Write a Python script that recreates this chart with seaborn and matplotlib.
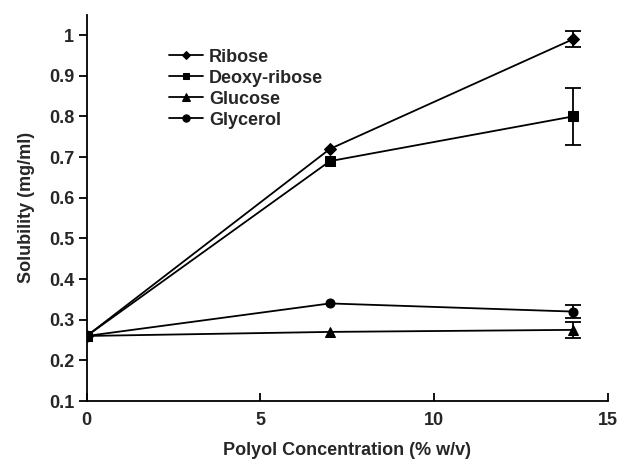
import numpy as np
import pandas as pd
import matplotlib
matplotlib.use("Agg")
import matplotlib.pyplot as plt
import seaborn as sns

# Polyol concentration (% w/v)
concentration = [0, 7, 14]

# Solubility (mg/ml) and standard deviation for each polyol
ribose = [0.26, 0.72, 0.99]
ribose_err = [0.0, 0.0, 0.02]
deoxyribose = [0.26, 0.69, 0.80]
deoxyribose_err = [0.0, 0.0, 0.07]
glucose = [0.26, 0.27, 0.275]
glucose_err = [0.0, 0.0, 0.02]
glycerol = [0.26, 0.34, 0.32]
glycerol_err = [0.0, 0.0, 0.017]

series_names = ["Ribose", "Deoxy-ribose", "Glucose", "Glycerol"]
series_values = [ribose, deoxyribose, glucose, glycerol]
series_errors = [ribose_err, deoxyribose_err, glucose_err, glycerol_err]
series_markers = {"Ribose": "D", "Deoxy-ribose": "s", "Glucose": "^", "Glycerol": "o"}
marker_sizes = {"Ribose": 5.5, "Deoxy-ribose": 6.5, "Glucose": 7, "Glycerol": 7}

rows = []
for name, vals, errs in zip(series_names, series_values, series_errors):
    for c, v, e in zip(concentration, vals, errs):
        rows.append({"Polyol": name, "Concentration": c, "Solubility": v, "SD": e})
df = pd.DataFrame(rows)

sns.set_theme(style="white")
plt.rcParams["font.family"] = ["Liberation Sans", "DejaVu Sans"]
plt.rcParams["font.weight"] = "bold"

fig = plt.figure(figsize=(6.24, 4.62), dpi=100)
ax = fig.add_axes([0.139, 0.132, 0.835, 0.836])

sns.lineplot(
    data=df, x="Concentration", y="Solubility", hue="Polyol", style="Polyol",
    palette=["black"] * 4, markers=series_markers, dashes=False,
    linewidth=1.3, markersize=6.5, markeredgecolor="black", ax=ax, legend=True,
)
for line in ax.lines:
    lab = line.get_label()
    if lab in marker_sizes:
        line.set_markersize(marker_sizes[lab])

for name in series_names:
    sub = df[(df["Polyol"] == name) & (df["SD"] > 0)]
    ax.errorbar(sub["Concentration"], sub["Solubility"], yerr=sub["SD"],
                fmt="none", ecolor="black", elinewidth=1.3, capsize=6, capthick=1.3)

ax.set_xlim(0, 15)
ax.set_ylim(0.1, 1.05)
ax.set_xticks([0, 5, 10, 15])
ax.set_yticks([0.1, 0.2, 0.3, 0.4, 0.5, 0.6, 0.7, 0.8, 0.9, 1.0])
ax.set_yticklabels(["0.1", "0.2", "0.3", "0.4", "0.5", "0.6", "0.7", "0.8", "0.9", "1"])

for s in ["top", "right"]:
    ax.spines[s].set_visible(False)
for s in ["left", "bottom"]:
    ax.spines[s].set_color("black")
    ax.spines[s].set_linewidth(1.3)

ax.tick_params(axis="y", direction="out", length=6, width=1.3, color="black",
               labelsize=13, pad=3, left=True)
ax.tick_params(axis="x", direction="in", length=6, width=1.3, color="black",
               labelsize=13, pad=8, bottom=True)
for lbl in ax.get_xticklabels() + ax.get_yticklabels():
    lbl.set_fontweight("bold")

ax.set_xlabel("Polyol Concentration (% w/v)", fontsize=13, fontweight="bold", labelpad=9)
ax.set_ylabel("Solubility (mg/ml)", fontsize=13, fontweight="bold", labelpad=10)
ax.grid(False)

leg = ax.legend(loc="upper left", bbox_to_anchor=(0.245, 0.93), bbox_transform=fig.transFigure,
                frameon=False, handlelength=1.9, handletextpad=0.3, markerscale=0.75,
                labelspacing=0.22, prop={"weight": "bold", "size": 13})
for h in leg.legend_handles:
    h.set_linewidth(1.3)

fig.savefig("out.png", dpi=100, facecolor="white")
